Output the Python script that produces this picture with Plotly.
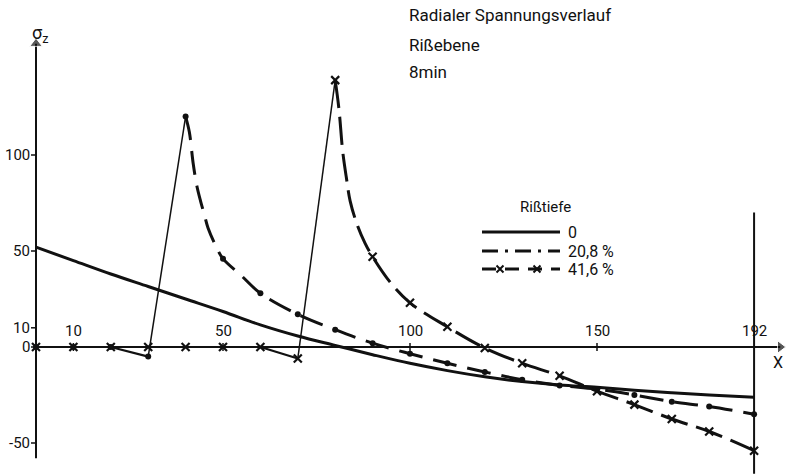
import plotly.graph_objects as go

# ---------------- data ----------------
# Rißtiefe 0
x_0 = [0, 10, 20, 30, 40, 50, 60, 70, 80, 90, 100, 110, 120, 130, 140, 150, 160, 170, 180, 192]
y_0 = [52, 45, 38, 31.5, 25, 18.5, 11.5, 5.7, 0.8, -4, -8.5, -12.3, -15.5, -18, -19.8, -21, -22.5, -23.8, -25, -26.2]

# Rißtiefe 20,8 %
x_20 = [0, 10, 20, 30, 40, 41, 42, 43, 44, 45, 46, 48, 50, 55, 60, 70, 80, 90, 100, 110, 120, 130, 140, 150, 160, 170, 180, 192]
y_20 = [0, 0, 0, -5, 120, 112, 96, 84, 76, 69, 62, 53, 46, 37, 28, 17, 9, 2, -3.5, -8.5, -13, -17, -20, -22, -25, -28.5, -31, -35]

# Rißtiefe 41,6 %
x_41 = [0, 10, 20, 30, 40, 50, 60, 70, 80, 81, 82, 83, 84, 86, 88, 90, 95, 100, 110, 120, 130, 140, 150, 160, 170, 180, 192]
y_41 = [0, 0, 0, 0, 0, 0, 0, -6, 139, 124, 102, 88, 76, 63, 54, 47, 33, 23, 10.5, -0.5, -8.5, -15, -23, -30, -37.5, -44, -54]

x_ticks = [10, 50, 100, 150, 192]
y_ticks = [100, 50, 10, 0, -50]
x_end = 192
x_axis_end = 199
y_axis_top, y_axis_bottom = 158, -58

legend_title = "Rißtiefe"
legend_labels = ["0", "20,8 %", "41,6 %"]
title_lines = ["Radialer Spannungsverlauf", "Rißebene", "8min"]

# ---------------- figure ----------------
W, H = 787, 476
FONT = "Roboto, DejaVu Sans, sans-serif"
BLACK = "#111111"

fig = go.Figure()


def marked(xs, ys):
    pts = [(a, b) for a, b in zip(xs, ys) if a % 10 == 0 or a == x_end]
    return [p[0] for p in pts], [p[1] for p in pts]


def split_at_peak(xs, ys):
    k = ys.index(max(ys))
    return (xs[:k + 1], ys[:k + 1]), (xs[k:], ys[k:])


# axes (drawn as lines) + arrow heads
fig.add_trace(go.Scatter(x=[0, x_axis_end], y=[0, 0], mode="lines",
                         line=dict(color=BLACK, width=2), showlegend=False, hoverinfo="skip"))
fig.add_trace(go.Scatter(x=[0, 0], y=[y_axis_bottom, y_axis_top], mode="lines",
                         line=dict(color=BLACK, width=2), showlegend=False, hoverinfo="skip"))
fig.add_trace(go.Scatter(x=[x_axis_end], y=[0], mode="markers",
                         marker=dict(symbol="triangle-right", size=[11], color=BLACK),
                         showlegend=False, hoverinfo="skip"))
fig.add_trace(go.Scatter(x=[0], y=[y_axis_top], mode="markers",
                         marker=dict(symbol="triangle-up", size=[11], color=BLACK),
                         showlegend=False, hoverinfo="skip"))

# curve 0
fig.add_trace(go.Scatter(x=x_0, y=y_0, mode="lines", line=dict(color=BLACK, width=3),
                         line_shape="spline", showlegend=False))

# curve 20,8 %
(pre20, post20) = split_at_peak(x_20, y_20)
fig.add_trace(go.Scatter(x=pre20[0][2:4], y=pre20[1][2:4], mode="lines",
                         line=dict(color=BLACK, width=2.2), showlegend=False))
fig.add_trace(go.Scatter(x=pre20[0][3:], y=pre20[1][3:], mode="lines",
                         line=dict(color=BLACK, width=1.5), showlegend=False))
fig.add_trace(go.Scatter(x=post20[0], y=post20[1], mode="lines",
                         line=dict(color=BLACK, width=3, dash="24px,11px"),
                         line_shape="spline", showlegend=False))
mx, my = marked(x_20, y_20)
fig.add_trace(go.Scatter(x=mx, y=my, mode="markers",
                         marker=dict(color=BLACK, size=6, symbol="circle"), showlegend=False))

# curve 41,6 %
(pre41, post41) = split_at_peak(x_41, y_41)
fig.add_trace(go.Scatter(x=pre41[0][-3:-1], y=pre41[1][-3:-1], mode="lines",
                         line=dict(color=BLACK, width=2.2), showlegend=False))
fig.add_trace(go.Scatter(x=pre41[0][-2:], y=pre41[1][-2:], mode="lines",
                         line=dict(color=BLACK, width=1.5), showlegend=False))
fig.add_trace(go.Scatter(x=post41[0], y=post41[1], mode="lines",
                         line=dict(color=BLACK, width=3, dash="28px,9px"),
                         line_shape="spline", showlegend=False))
mx, my = marked(x_41, y_41)
fig.add_trace(go.Scatter(x=mx, y=my, mode="markers",
                         marker=dict(color=BLACK, size=8, symbol="x-thin",
                                     line=dict(color=BLACK, width=2.2)), showlegend=False))

# ---------------- legend (manual, overlay axes in window pixels) ----------------
lx0, lx1 = 482, 560
ly = [232, 251, 269]
fig.add_trace(go.Scatter(x=[lx0, lx1], y=[ly[0], ly[0]], mode="lines", xaxis="x2", yaxis="y2",
                         line=dict(color=BLACK, width=3), showlegend=False))
fig.add_trace(go.Scatter(x=[lx0, lx1], y=[ly[1], ly[1]], mode="lines", xaxis="x2", yaxis="y2",
                         line=dict(color=BLACK, width=3, dash="16px,7px,3px,7px"), showlegend=False))
fig.add_trace(go.Scatter(x=[lx0, lx1], y=[ly[2], ly[2]], mode="lines", xaxis="x2", yaxis="y2",
                         line=dict(color=BLACK, width=3, dash="14px,9px"), showlegend=False))
fig.add_trace(go.Scatter(x=[500, 537], y=[ly[2], ly[2]], mode="markers", xaxis="x2", yaxis="y2",
                         marker=dict(color=BLACK, size=7, symbol="x-thin",
                                     line=dict(color=BLACK, width=2)), showlegend=False))

annotations = []
annotations.append(dict(x=518, y=207, xref="x2", yref="y2", text=legend_title, showarrow=False,
                        xanchor="left", yanchor="middle", font=dict(family=FONT, size=15, color=BLACK)))
for lab, yy in zip(legend_labels, ly):
    annotations.append(dict(x=566, y=yy, xref="x2", yref="y2", text=lab, showarrow=False,
                            xanchor="left", yanchor="middle", font=dict(family=FONT, size=16, color=BLACK)))

# title lines
for t, yy in zip(title_lines, [15, 45, 72]):
    annotations.append(dict(x=407, y=yy, xref="x2", yref="y2", text=t, showarrow=False,
                            xanchor="left", yanchor="middle", font=dict(family=FONT, size=17, color=BLACK)))

# tick labels
for t in x_ticks:
    annotations.append(dict(x=t, y=0, xref="x", yref="y", text=str(t), showarrow=False,
                            xanchor="center", yanchor="bottom", yshift=5,
                            font=dict(family=FONT, size=15, color=BLACK)))
for t in y_ticks:
    annotations.append(dict(x=0, y=t, xref="x", yref="y", text=str(t), showarrow=False,
                            xanchor="right", yanchor="middle", xshift=-4,
                            font=dict(family=FONT, size=15, color=BLACK)))

annotations.append(dict(x=0, y=163, xref="x", yref="y", text="σ<sub>z</sub>", showarrow=False,
                        xanchor="center", yanchor="middle", xshift=4,
                        font=dict(family=FONT, size=18, color=BLACK)))
annotations.append(dict(x=x_axis_end, y=-8, xref="x", yref="y", text="X", showarrow=False,
                        xanchor="center", yanchor="middle", xshift=-2,
                        font=dict(family=FONT, size=16, color=BLACK)))

shapes = []
# vertical line at x_end
shapes.append(dict(type="line", xref="x", yref="y", x0=x_end, x1=x_end, y0=70, y1=-66,
                   line=dict(color=BLACK, width=2)))
# tick marks
for t in y_ticks:
    shapes.append(dict(type="line", xref="x", yref="y", xsizemode="pixel", xanchor=0,
                       x0=-5, x1=0, y0=t, y1=t, line=dict(color=BLACK, width=1.5)))
for t in x_ticks[:-1]:
    shapes.append(dict(type="line", xref="x", yref="y", ysizemode="pixel", yanchor=0,
                       x0=t, x1=t, y0=-4, y1=4, line=dict(color=BLACK, width=1.5)))

px_per_x = 3.74
px_per_y = 1.92
x0_px, y0_px = 36, 347
fig.update_layout(
    width=W, height=H,
    margin=dict(l=0, r=0, t=0, b=0),
    paper_bgcolor="white", plot_bgcolor="white",
    xaxis=dict(range=[-x0_px / px_per_x, (W - x0_px) / px_per_x], visible=False, fixedrange=True),
    yaxis=dict(range=[(y0_px - H) / px_per_y, y0_px / px_per_y], visible=False, fixedrange=True),
    xaxis2=dict(range=[0, W], visible=False, overlaying="x", fixedrange=True),
    yaxis2=dict(range=[H, 0], visible=False, overlaying="y", fixedrange=True),
    annotations=annotations,
    shapes=shapes,
    showlegend=False,
    hovermode=False,
)

fig.write_html("out.html", config={"displayModeBar": False},
               post_script="document.body.style.margin='0';document.body.style.overflow='hidden';")
